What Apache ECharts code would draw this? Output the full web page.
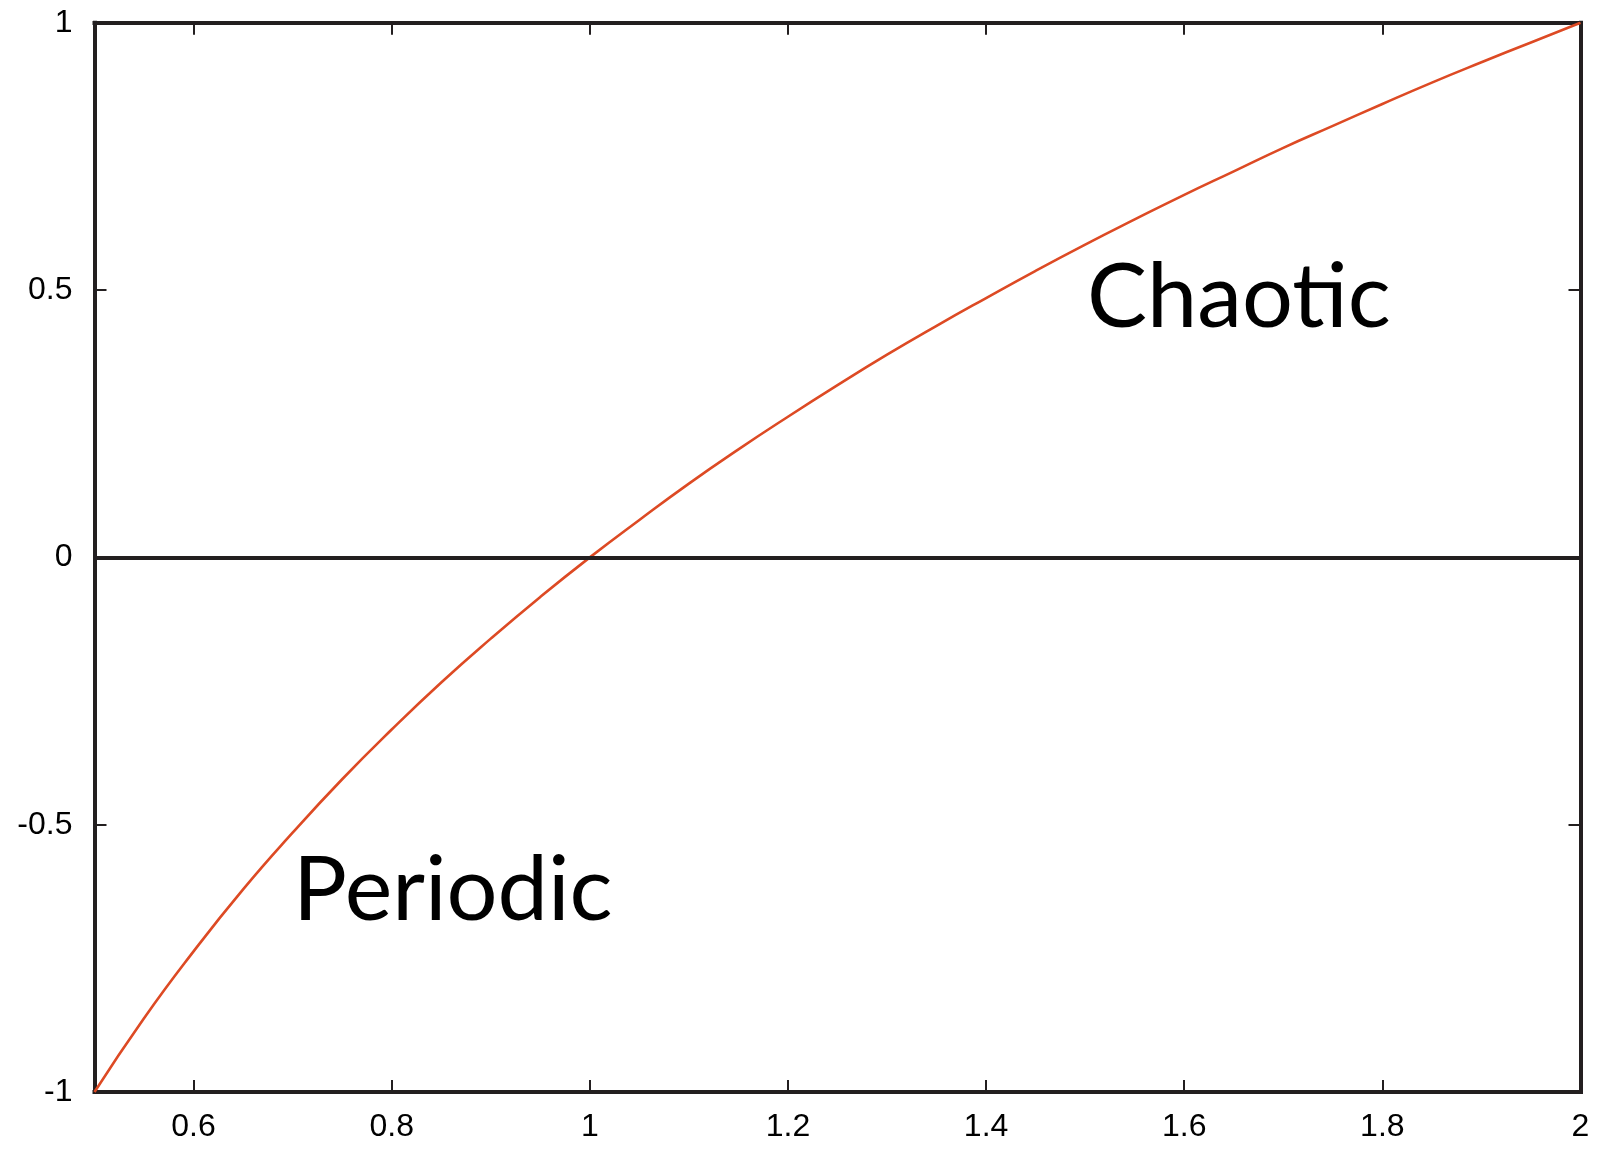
<!DOCTYPE html>
<html>
<head>
<meta charset="utf-8">
<script src="https://cdn.jsdelivr.net/npm/echarts@6/dist/echarts.min.js"></script>
<style>
  html, body { margin: 0; padding: 0; background: #fff; }
  #main { width: 1600px; height: 1157px; }
</style>
</head>
<body>
<div id="main"></div>
<script>
// curve points
var xs = [0.5, 0.55, 0.6, 0.65, 0.7, 0.75, 0.8, 0.85, 0.9, 0.95, 1.0,
          1.05, 1.1, 1.15, 1.2, 1.25, 1.3, 1.35, 1.4, 1.45, 1.5,
          1.55, 1.6, 1.65, 1.7, 1.75, 1.8, 1.85, 1.9, 1.95, 2.0];
var ys = [-1, -0.862, -0.737, -0.621, -0.515, -0.415, -0.322, -0.234, -0.152, -0.074, 0,
          0.070, 0.138, 0.202, 0.263, 0.322, 0.379, 0.433, 0.485, 0.536, 0.585,
          0.632, 0.678, 0.722, 0.766, 0.807, 0.848, 0.888, 0.926, 0.963, 1];
var xTicks = [0.6, 0.8, 1, 1.2, 1.4, 1.6, 1.8, 2];
var yTicks = [-1, -0.5, 0, 0.5, 1];
var regionLabels = ['Chaotic', 'Periodic'];

var frameColor = '#231f20';
var labelFont = { color: '#000', fontSize: 32, fontFamily: 'Liberation Sans, Arial, sans-serif' };

var curve = [];
for (let i = 0; i < xs.length; i++) {
    curve.push([xs[i], ys[i]]);
}

function xAxisDef(pos, showLabel) {
    return {
        type: 'value', position: pos, min: 0.5, max: 2,
        axisLine: { show: true, onZero: false, lineStyle: { color: frameColor, width: 4, cap: 'square' } },
        axisTick: { show: true, inside: true, length: 12, customValues: xTicks, lineStyle: { color: frameColor, width: 2 } },
        axisLabel: Object.assign({ show: showLabel, margin: 19, customValues: xTicks,
            formatter: function (v) { return String(+v.toFixed(1)); } }, labelFont),
        splitLine: { show: false }
    };
}
function yAxisDef(pos, showLabel) {
    return {
        type: 'value', position: pos, min: -1, max: 1, interval: 0.5,
        axisLine: { show: true, onZero: false, lineStyle: { color: frameColor, width: 4, cap: 'square' } },
        axisTick: { show: true, inside: true, length: 12, lineStyle: { color: frameColor, width: 2 } },
        axisLabel: Object.assign({ show: showLabel, margin: 22,
            formatter: function (v) { return String(+v.toFixed(1)); } }, labelFont),
        splitLine: { show: false }
    };
}

var chart = echarts.init(document.getElementById('main'));
chart.setOption({
    animation: false,
    grid: { left: 94.5, right: 19.5, top: 22.7, bottom: 65, containLabel: false },
    xAxis: [xAxisDef('bottom', true), xAxisDef('top', false)],
    yAxis: [yAxisDef('left', true), yAxisDef('right', false)],
    graphic: [
        { type: 'text', left: 1087, top: 253,
          style: { text: regionLabels[0], fontSize: 90, fontFamily: 'Lato, sans-serif', fill: '#000' } },
        { type: 'text', left: 293, top: 846,
          style: { text: regionLabels[1], fontSize: 90, fontFamily: 'Lato, sans-serif', fill: '#000' } }
    ],
    series: [{
        // zero line, kept under the curve
        type: 'line',
        data: [],
        z: 1,
        markLine: {
            silent: true,
            symbol: 'none',
            label: { show: false },
            lineStyle: { color: frameColor, width: 4, type: 'solid' },
            data: [{ yAxis: 0 }]
        }
    }, {
        type: 'line',
        data: curve,
        z: 3,
        smooth: true,
        symbol: 'none',
        lineStyle: { color: '#dd4a24', width: 2.6 }
    }]
});
</script>
</body>
</html>
